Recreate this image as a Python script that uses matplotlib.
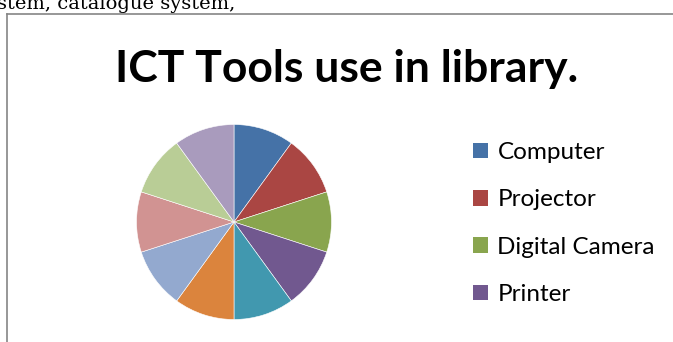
import matplotlib
matplotlib.use("Agg")
import matplotlib.pyplot as plt
from matplotlib.lines import Line2D
from matplotlib.patches import Patch

W, H, DPI = 673, 342, 100

title = "ICT Tools use in library."
header_text = "stem, catalogue system,"
legend_labels = ["Computer", "Projector", "Digital Camera", "Printer"]
shares = [1, 1, 1, 1, 1, 1, 1, 1, 1, 1]
colors = ["#4572A7", "#AA4643", "#89A54E", "#71588F", "#4198AF",
          "#DB843D", "#93A9CF", "#D19392", "#B9CD96", "#A99BBD"]

fig = plt.figure(figsize=(W / DPI, H / DPI), dpi=DPI)
fig.patch.set_facecolor("white")

def fx(px):
    return px / W

def fy(py):
    return 1 - py / H

# running text from the page above the chart box
fig.text(fx(-3), fy(9), header_text, family="DejaVu Serif", fontsize=14,
         ha="left", va="baseline", color="black")

# chart box edges (left and top)
fig.add_artist(Line2D([fx(7), fx(7)], [fy(14), fy(H + 2)], color="#858585", lw=1.2))
fig.add_artist(Line2D([fx(7), fx(W + 2)], [fy(14), fy(14)], color="#858585", lw=1.2))

# title
fig.text(fx(347), fy(82), title, family="Lato", fontweight="bold", fontsize=32,
         ha="center", va="baseline", color="black")

# pie
cx, cy, r = 234, 222, 97.5
ax = fig.add_axes([fx(cx - r), fy(cy + r), (2 * r) / W, (2 * r) / H])
ax.pie(shares, colors=colors, startangle=90, counterclock=False, radius=1,
       wedgeprops=dict(edgecolor="white", linewidth=0.4))
ax.set_xlim(-1, 1)
ax.set_ylim(-1, 1)
ax.set_aspect("equal")
ax.axis("off")

# legend
handles = [Patch(facecolor=c, edgecolor="none") for c in colors[:len(legend_labels)]]
fig.legend(handles, legend_labels, loc="upper left",
           bbox_to_anchor=(fx(461), fy(130)), frameon=False,
           prop=dict(family="Lato", size=17.5), handlelength=0.6, handleheight=0.6,
           handletextpad=0.4, labelspacing=1.08, borderpad=0)

fig.savefig("out.png", dpi=DPI, facecolor="white")
